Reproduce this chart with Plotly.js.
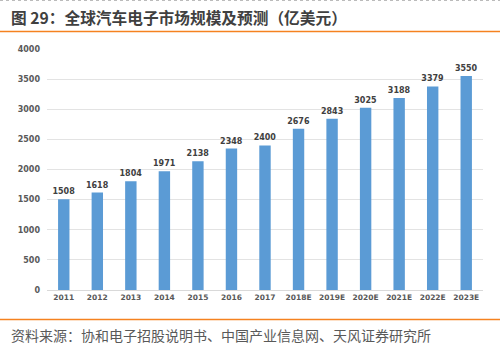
<!DOCTYPE html>
<html><head><meta charset="utf-8">
<script src="https://cdn.plot.ly/plotly-3.0.1.min.js"></script>
<style>html,body{margin:0;padding:0;background:#fff;}#c{width:500px;height:351px;}</style>
</head><body><div id="c"></div>
<script>
const categories = ['2011','2012','2013','2014','2015','2016','2017','2018E','2019E','2020E','2021E','2022E','2023E'];
const values = [1508,1618,1804,1971,2138,2348,2400,2676,2843,3025,3188,3379,3550];
const yTicks = [0,500,1000,1500,2000,2500,3000,3500,4000];
const titleText = '图 29：全球汽车电子市场规模及预测（亿美元）';
const sourceText = '资料来源：协和电子招股说明书、中国产业信息网、天风证券研究所';

const W = 500, H = 351, L = 47, R = 17, T = 49, B = 61;
const pw = W - L - R, ph = H - T - B;
const px = x => (x - L) / pw;
const py = y => 1 - (y - T) / ph;
const font = '"DejaVu Sans", sans-serif';

const trace = {
  type: 'bar', x: categories, y: values,
  marker: {color: '#5B9BD5'},
  width: 0.34,
  text: values.map(v => '<b>' + v + '</b>'), textposition: 'outside',
  constraintext: 'none',
  textfont: {size: 8, color: '#404040', family: font},
  cliponaxis: false, hoverinfo: 'none'
};

const layout = {
  width: W, height: H,
  margin: {l: L, r: R, t: T, b: B, pad: 0},
  paper_bgcolor: '#fff', plot_bgcolor: '#fff',
  showlegend: false,
  bargap: 0.66,
  xaxis: {type: 'category', showgrid: false, showline: true, linecolor: '#d9d9d9', linewidth: 1,
          tickvals: categories, ticktext: categories.map(c => '<b>' + c + '</b>'),
          ticks: '', tickfont: {size: 7.5, color: '#595959', family: font}, fixedrange: true},
  yaxis: {range: [0, 4000], tickvals: yTicks, ticktext: yTicks.map(v => '<b>' + v + '</b>'), showgrid: true,
          gridcolor: '#e3e3e3', gridwidth: 1, zeroline: false, showline: false, ticks: '',
          ticklabelstandoff: 6,
          tickfont: {size: 8, color: '#595959', family: font}, fixedrange: true},
  annotations: [
    {text: '<b>' + titleText + '</b>', xref: 'paper', yref: 'paper', x: px(9), y: py(17),
     xanchor: 'left', yanchor: 'middle', showarrow: false,
     font: {size: 15.7, color: '#404040', family: '"Noto Sans CJK SC", sans-serif'}},
    {text: sourceText, xref: 'paper', yref: 'paper', x: px(9), y: py(335),
     xanchor: 'left', yanchor: 'middle', showarrow: false,
     font: {size: 14, color: '#595959', family: '"Noto Sans CJK SC", sans-serif'}}
  ],
  shapes: [
    {type: 'line', xref: 'paper', yref: 'paper', x0: px(0), x1: px(500), y0: py(31.5), y1: py(31.5),
     line: {color: '#F58220', width: 1.5}},
    {type: 'line', xref: 'paper', yref: 'paper', x0: px(0), x1: px(500), y0: py(319.5), y1: py(319.5),
     line: {color: '#F58220', width: 1.5}},
    {type: 'line', xref: 'paper', yref: 'paper', x0: px(0), x1: px(500), y0: py(0.5), y1: py(0.5),
     line: {color: '#bbbbbb', width: 1, dash: 'dot'}}
  ]
};

Plotly.newPlot('c', [trace], layout, {staticPlot: true, displayModeBar: false});
</script></body></html>
